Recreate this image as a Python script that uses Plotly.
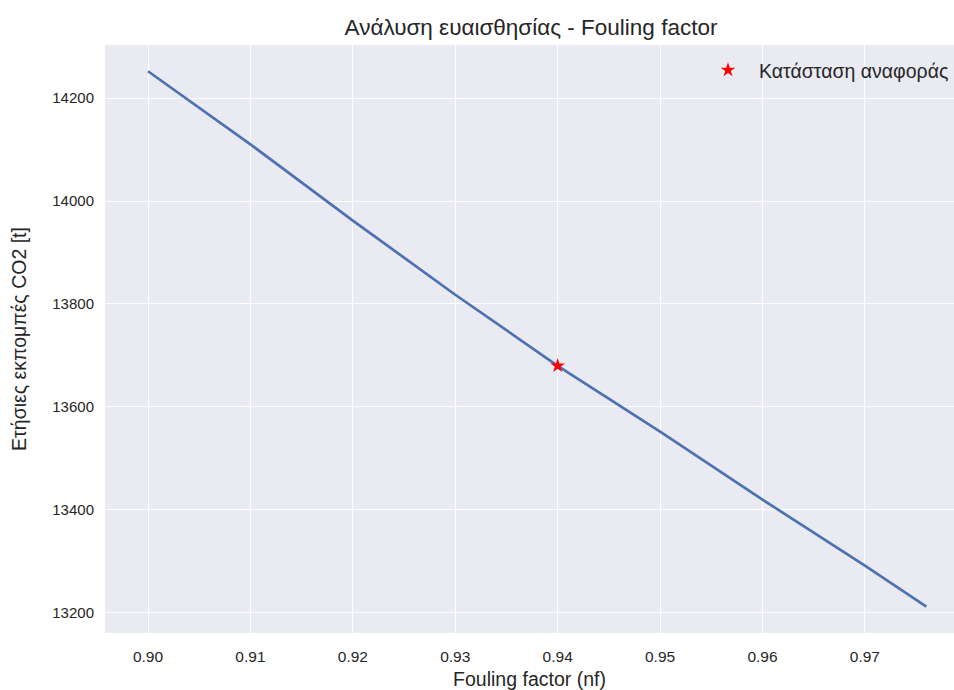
import plotly.graph_objects as go

nf = [0.90, 0.91, 0.92, 0.93, 0.94, 0.95, 0.96, 0.97, 0.976]
co2 = [14252, 14110, 13962, 13818, 13680, 13552, 13420, 13292, 13212]
ref_nf = [0.94]
ref_co2 = [13680]
x_ticks = [0.90, 0.91, 0.92, 0.93, 0.94, 0.95, 0.96, 0.97]
y_ticks = [13200, 13400, 13600, 13800, 14000, 14200]

FONT = "Liberation Sans, Arial, sans-serif"
TXT = "#262626"

fig = go.Figure()
fig.add_trace(go.Scatter(x=nf, y=co2, mode="lines", line=dict(color="#4C72B0", width=2.7),
                         showlegend=False, hoverinfo="skip"))
fig.add_trace(go.Scatter(x=ref_nf, y=ref_co2, mode="markers", name="Κατάσταση αναφοράς",
                         marker=dict(symbol="star", color="red", size=11, line=dict(width=0))))

fig.update_layout(
    width=954, height=690,
    margin=dict(l=105, r=0, t=45, b=57),
    paper_bgcolor="white", plot_bgcolor="#EAEAF2",
    font=dict(family=FONT, color=TXT, size=15),
    title=dict(text="Ανάλυση ευαισθησίας - Fouling factor", x=531/954, xanchor="center",
               y=1 - 27/690, yanchor="middle", font=dict(size=22.5, color=TXT)),
    legend=dict(x=1.0, xanchor="right", y=0.99, yanchor="top", bgcolor="rgba(0,0,0,0)",
                itemwidth=52, font=dict(size=19.5, color=TXT)),
    xaxis=dict(range=[0.8958, 0.9787], tickvals=x_ticks, tickformat=".2f",
               showgrid=True, gridcolor="white", gridwidth=1.2, zeroline=False,
               showline=False, ticks="", ticklabelstandoff=12,
               tickfont=dict(size=15.5),
               title=dict(text="Fouling factor (nf)", font=dict(size=19.5), standoff=12)),
    yaxis=dict(range=[13161, 14303], tickvals=y_ticks, tickformat="d",
               showgrid=True, gridcolor="white", gridwidth=1.2, zeroline=False,
               showline=False, ticks="", ticklabelstandoff=10,
               tickfont=dict(size=15),
               title=dict(text="Ετήσιες εκπομπές CO2 [t]", font=dict(size=19.5), standoff=20)),
)

fig.write_html("out.html")
